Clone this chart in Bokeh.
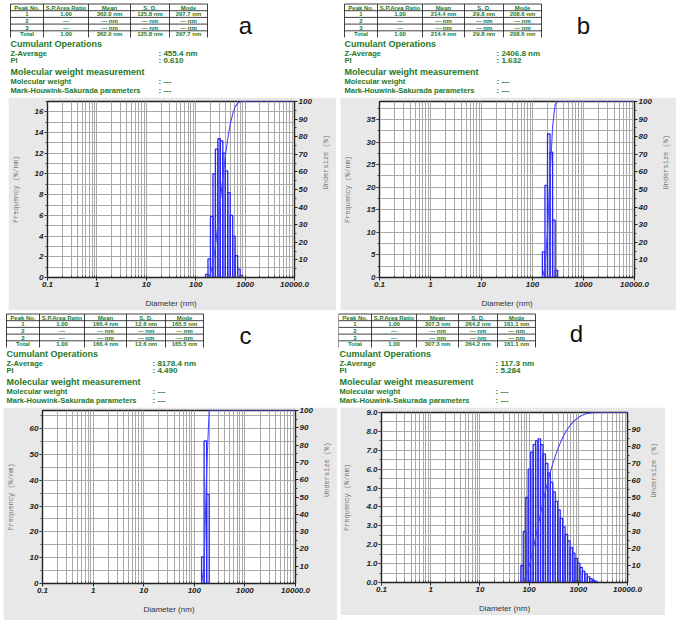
import math
from bokeh.plotting import figure
from bokeh.models import Range1d, LinearAxis, FixedTicker, Spacer, PrintfTickFormatter
from bokeh.layouts import row, column
from bokeh.embed import file_html
from bokeh.resources import INLINE
from bokeh.core.properties import value

# ---------------- data ----------------
x_major_ticks = [0.1, 1, 10, 100, 1000, 10000]
x_tick_labels = ["0.1", "1", "10", "100", "1000", "10000.0"]
baseline_start_nm = 0.3

table_header = ["Peak No.", "S.P.Area Ratio", "Mean", "S. D.", "Mode"]
peak_no = ["1", "2", "3", "Total"]

# panel a
a_area = ["1.00", "---", "---", "1.00"]
a_mean = ["362.0 nm", "--- nm", "--- nm", "362.0 nm"]
a_sd = ["125.8 nm", "--- nm", "--- nm", "125.8 nm"]
a_mode = ["297.7 nm", "--- nm", "--- nm", "297.7 nm"]
a_zavg = "455.4 nm"
a_pi = "0.610"
a_diam = [167.4, 187.8, 210.8, 236.5, 265.3, 297.7, 334.0, 374.8, 420.5, 471.8, 529.4, 594.0, 666.5, 747.8, 839.0]
a_freq = [0.3, 1.8, 5.9, 10.0, 12.4, 13.4, 13.2, 12.0, 10.3, 8.2, 6.0, 4.0, 2.1, 0.8, 0.2]
a_yticks = [0, 2, 4, 6, 8, 10, 12, 14, 16]
a_yminor = list(range(0, 18))
a_ymax = 17

# panel b
b_area = ["1.00", "---", "---", "1.00"]
b_mean = ["214.4 nm", "--- nm", "--- nm", "214.4 nm"]
b_sd = ["29.8 nm", "--- nm", "--- nm", "29.8 nm"]
b_mode = ["208.6 nm", "--- nm", "--- nm", "208.6 nm"]
b_zavg = "2406.8 nm"
b_pi = "1.632"
b_diam = [165.7, 185.9, 208.6, 234.1, 262.6, 294.7]
b_freq = [5.7, 20.4, 31.8, 27.8, 12.7, 1.6]
b_yticks = [0, 5, 10, 15, 20, 25, 30, 35]
b_yminor = [0, 2.5, 5, 7.5, 10, 12.5, 15, 17.5, 20, 22.5, 25, 27.5, 30, 32.5, 35, 37.5]
b_ymax = 39

# panel c
c_area = ["1.00", "---", "---", "1.00"]
c_mean = ["166.4 nm", "--- nm", "--- nm", "166.4 nm"]
c_sd = ["12.6 nm", "--- nm", "--- nm", "12.6 nm"]
c_mode = ["165.5 nm", "--- nm", "--- nm", "165.5 nm"]
c_zavg = "8178.4 nm"
c_pi = "4.490"
c_diam = [147.5, 165.5, 185.7]
c_freq = [10.3, 55.2, 34.5]
c_yticks = [0, 10, 20, 30, 40, 50, 60]
c_yminor = [0, 5, 10, 15, 20, 25, 30, 35, 40, 45, 50, 55, 60, 65]
c_ymax = 67

# panel d
d_area = ["1.00", "---", "---", "1.00"]
d_mean = ["307.3 nm", "--- nm", "--- nm", "307.3 nm"]
d_sd = ["264.2 nm", "--- nm", "--- nm", "264.2 nm"]
d_mode = ["161.1 nm", "--- nm", "--- nm", "161.1 nm"]
d_zavg = "117.3 nm"
d_pi = "5.284"
d_diam = [72.0, 80.7, 90.6, 101.6, 114.0, 128.0, 143.6, 161.1, 180.8, 202.8, 227.6, 255.3,
          286.5, 321.4, 360.7, 404.7, 454.0, 509.4, 571.6, 641.4, 719.6, 807.4, 905.9, 1016.5,
          1140.5, 1279.7, 1435.8, 1611.0, 1807.6, 2028.1, 2275.6]
d_freq = [0.9, 2.7, 4.5, 6.0, 6.9, 7.3, 7.5, 7.6, 7.3, 6.8, 6.3, 5.8, 5.3, 4.8, 4.3, 3.85,
          3.4, 2.95, 2.55, 2.2, 1.85, 1.55, 1.28, 1.02, 0.8, 0.6, 0.44, 0.3, 0.2, 0.12, 0.06]
d_yticks = [0, 1, 2, 3, 4, 5, 6, 7, 8, 9]
d_yminor = [i * 0.5 for i in range(0, 19)]
d_ymax = 9.0

under_ticks_full = [10, 20, 30, 40, 50, 60, 70, 80, 90, 100]
under_ticks_short = [10, 20, 30, 40, 50, 60, 70, 80, 90]
under_minor = [5, 15, 25, 35, 45, 55, 65, 75, 85, 95]

# ---------------- styles ----------------
FONT = "Liberation Sans"
MONO = "Liberation Mono"
GREEN = "#24782a"
GRAY = "#e8e8e8"
GRIDC = "#a9a9a9"
BAR = "#2828f5"
CURVE = "#4646ff"
HALF_BIN = 10 ** 0.025  # half of a 0.05-decade bin
x_minor = [m * 10.0 ** e for e in range(-1, 4) for m in range(1, 10)] + [10000]


def make_header(w, h, area, mean, sd, mode, zavg, pi, letter, lx, ly, tbl_left, txt_left, val_left):
    p = figure(width=w, height=h, x_range=Range1d(0, w), y_range=Range1d(h, 0),
               toolbar_location=None, output_backend="svg", min_border=0,
               border_fill_color="white", background_fill_color="white", outline_line_color=None)
    p.xaxis.visible = False
    p.yaxis.visible = False
    p.xgrid.visible = False
    p.ygrid.visible = False

    col_w = [33, 45, 42, 39, 38]
    row_h = 6.7
    y0 = 3.5
    edges = [tbl_left]
    for cw in col_w:
        edges.append(edges[-1] + cw)
    nrows = 5
    p.segment(x0=edges, x1=edges, y0=[y0] * len(edges), y1=[y0 + nrows * row_h] * len(edges),
              line_color="#111", line_width=0.8)
    hy = [y0 + i * row_h for i in range(nrows)]
    p.segment(x0=[edges[0]] * len(hy), x1=[edges[-1]] * len(hy), y0=hy, y1=hy,
              line_color="#111", line_width=0.8)
    rows = [table_header] + [[peak_no[i], area[i], mean[i], sd[i], mode[i]] for i in range(4)]
    tx, ty, tt = [], [], []
    for r, rr in enumerate(rows):
        for c, cell in enumerate(rr):
            tx.append((edges[c] + edges[c + 1]) / 2)
            ty.append(y0 + (r + 0.5) * row_h + 0.3)
            tt.append(cell)
    p.text(x=tx, y=ty, text=tt, text_align="center", text_baseline="middle",
           text_font=value(FONT), text_font_size=value("6px"), text_font_style="bold",
           text_color=GREEN)

    p.text(x=[txt_left, txt_left], y=[43, 71.5],
           text=["Cumulant Operations", "Molecular weight measurement"],
           text_align="left", text_baseline="middle", text_font=value(FONT),
           text_font_size=value("9px"), text_font_style="bold", text_color=GREEN)
    p.text(x=[txt_left] * 4, y=[53, 60, 80.5, 89.5],
           text=["Z-Average", "PI", "Molecular weight", "Mark-Houwink-Sakurada parameters"],
           text_align="left", text_baseline="middle", text_font=value(FONT),
           text_font_size=value("7.5px"), text_font_style="bold", text_color=GREEN)
    p.text(x=[val_left] * 4, y=[53, 60, 80.5, 89.5],
           text=[":  " + zavg, ":  " + pi, ":  ---", ":  ---"],
           text_align="left", text_baseline="middle", text_font=value(FONT),
           text_font_size=value("8px"), text_font_style="bold", text_color=GREEN)
    p.text(x=[lx], y=[ly], text=[letter], text_align="center", text_baseline="middle",
           text_font=value(FONT), text_font_size=value("24px"), text_color="#111")
    return p


def make_plot(w, h, diam, freq, ymax, yticks, yminor, uticks, bl, br, bt, bb, yfmt=None):
    p = figure(width=w, height=h, x_axis_type="log", x_range=Range1d(0.1, 10000),
               y_range=Range1d(0, ymax), toolbar_location=None, output_backend="svg",
               min_border_left=bl, min_border_right=br, min_border_top=bt, min_border_bottom=bb,
               border_fill_color=GRAY, background_fill_color="white",
               outline_line_color="#222", outline_line_width=1.4)
    p.extra_y_ranges = {"under": Range1d(0, 100)}

    xa = p.xaxis[0]
    xa.ticker = FixedTicker(ticks=x_major_ticks, minor_ticks=x_minor)
    xa.major_label_overrides = dict(zip(x_major_ticks, x_tick_labels))
    xa.axis_label = "Diameter (nm)"
    xa.axis_label_text_font = FONT
    xa.axis_label_text_font_style = "normal"
    xa.axis_label_text_font_size = "8px"
    xa.axis_label_text_color = "#333"
    xa.axis_label_standoff = 9
    xa.major_tick_out = 3
    xa.major_tick_in = 0
    xa.minor_tick_in = 2
    xa.minor_tick_out = 0
    xa.major_label_standoff = 1

    ya = p.yaxis[0]
    ya.ticker = FixedTicker(ticks=yticks, minor_ticks=yminor)
    if yfmt:
        ya.formatter = PrintfTickFormatter(format=yfmt)
    ya.axis_label = "Frequency (%/nm)"
    ya.axis_label_standoff = 12
    ya.major_tick_out = 3
    ya.major_tick_in = 0
    ya.minor_tick_out = 2
    ya.minor_tick_in = 0
    ya.major_label_standoff = 1

    ra = LinearAxis(y_range_name="under", ticker=FixedTicker(ticks=uticks, minor_ticks=under_minor),
                    axis_label="Undersize (%)")
    ra.axis_label_orientation = math.pi / 2
    ra.axis_label_standoff = 11
    ra.major_tick_out = 3
    ra.major_tick_in = 0
    ra.minor_tick_out = 2
    ra.minor_tick_in = 0
    ra.major_label_standoff = 1
    p.add_layout(ra, "right")

    for ax in (xa, ya, ra):
        ax.major_label_text_font = FONT
        ax.major_label_text_font_style = "bold italic"
        ax.major_label_text_font_size = "8px"
        ax.major_label_text_color = "#222"
        ax.axis_line_color = "#222"
        ax.major_tick_line_color = "#222"
        ax.minor_tick_line_color = "#444"
    for ax in (ya, ra):
        ax.axis_label_text_font = MONO
        ax.axis_label_text_font_style = "normal"
        ax.axis_label_text_font_size = "7px"
        ax.axis_label_text_color = "#777"

    p.xgrid.grid_line_color = GRIDC
    p.xgrid.minor_grid_line_color = GRIDC
    p.ygrid.grid_line_color = GRIDC
    p.ygrid.minor_grid_line_color = GRIDC

    lefts = [d / HALF_BIN for d in diam]
    rights = [d * HALF_BIN for d in diam]
    p.quad(left=lefts, right=rights, bottom=0, top=freq, fill_color=None,
           line_color=BAR, line_width=1.3)
    p.line(x=[baseline_start_nm, lefts[0]], y=[0, 0], line_color=BAR, line_dash="1 2", line_width=1)
    total = sum(freq)
    cum, s = [], 0.0
    for f in freq:
        s += f
        cum.append(100.0 * s / total)
    cx = [lefts[0]] + rights + [10000]
    cy = [0.0] + cum + [100.0]
    p.line(x=cx, y=cy, y_range_name="under", line_color=CURVE, line_width=1.1)
    return p


HDR_H, PLT_H = 97, 213

hdr_a = make_header(338, HDR_H, a_area, a_mean, a_sd, a_mode, a_zavg, a_pi, "a", 245, 25, 10, 10, 158)
hdr_b = make_header(338, HDR_H, b_area, b_mean, b_sd, b_mode, b_zavg, b_pi, "b", 245, 25, 6, 6, 158)
hdr_c = make_header(338, HDR_H, c_area, c_mean, c_sd, c_mode, c_zavg, c_pi, "c", 245, 25, 6, 6, 152)
hdr_d = make_header(338, HDR_H, d_area, d_mean, d_sd, d_mode, d_zavg, d_pi, "d", 238, 23, 0, 1, 157)

plot_a = make_plot(328, PLT_H, a_diam, a_freq, a_ymax, a_yticks, a_yminor, under_ticks_full, 38, 35, 4, 33)
plot_b = make_plot(336, PLT_H, b_diam, b_freq, b_ymax, b_yticks, b_yminor, under_ticks_full, 37, 42, 4, 33)
plot_c = make_plot(334, PLT_H, c_diam, c_freq, c_ymax, c_yticks, c_yminor, under_ticks_full, 39, 39, 3, 37)
plot_d = make_plot(325, 208, d_diam, d_freq, d_ymax, d_yticks, d_yminor, under_ticks_short, 37, 38, 5, 33,
                   yfmt="%.1f")

panel_a = column(row(hdr_a), row(Spacer(width=8, height=PLT_H), plot_a, Spacer(width=2, height=PLT_H)))
panel_b = column(row(hdr_b), row(Spacer(width=2, height=PLT_H), plot_b))
panel_c = column(row(hdr_c), row(Spacer(width=3, height=PLT_H), plot_c, Spacer(width=1, height=PLT_H)))
panel_d = column(row(hdr_d), row(Spacer(width=2, height=208), plot_d, Spacer(width=11, height=208)))

layout = column(row(panel_a, panel_b), row(panel_c, panel_d))

open("out.html", "w").write(file_html(layout, INLINE))
